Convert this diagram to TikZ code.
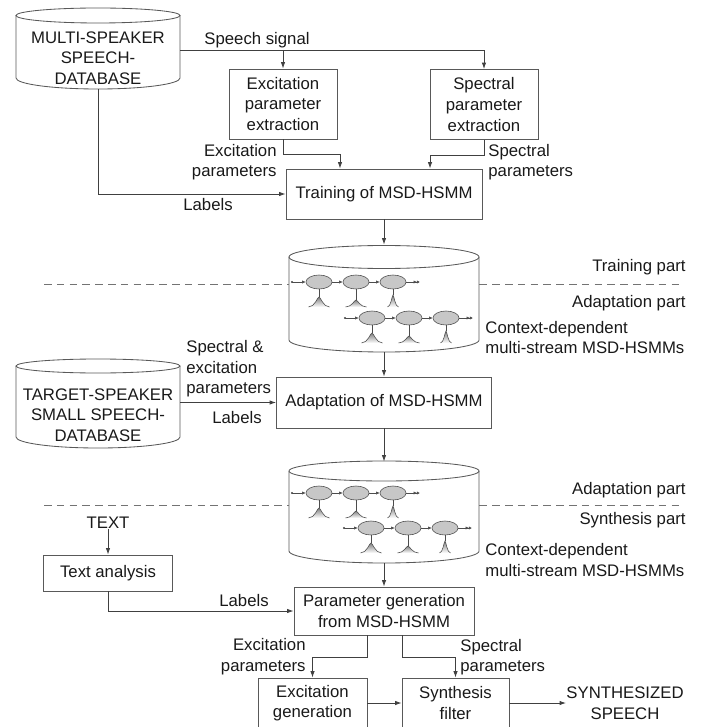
\documentclass[tikz,border=0pt]{standalone}
\usepackage{fontspec}
\setmainfont{Liberation Sans}
\usepackage{tikz}
\usetikzlibrary{
	arrows.meta,      % Per le punte delle frecce
	shapes.geometric  % Per gli stati ellittici
}

% Cilindro: x centro, y alto, y basso, rx, ry alto, ry basso (in pixel)
\newcommand{\cilindro}[6]{%
	\draw[bordo] (#1,#2) ellipse[x radius={#4*0.25mm}, y radius={#5*0.25mm}];
	\draw[bordo] (#1-#4,#2) -- (#1-#4,#3)
		arc[start angle=180, end angle=360, x radius={#4*0.25mm}, y radius={#6*0.25mm}]
		-- (#1+#4,#2);
}

% Gaussiana: x, y picco, y base, semi-larghezza
\newcommand{\gaussiana}[4]{%
	\shade[top color=black!50, bottom color=white]
		(#1-#4,#3) .. controls (#1-0.4*#4,#3) and (#1-0.15*#4,#2) .. (#1,#2)
		.. controls (#1+0.15*#4,#2) and (#1+0.4*#4,#3) .. (#1+#4,#3) -- cycle;
	\draw[sottile]
		(#1-#4,#3) .. controls (#1-0.4*#4,#3) and (#1-0.15*#4,#2) .. (#1,#2)
		.. controls (#1+0.15*#4,#2) and (#1+0.4*#4,#3) .. (#1+#4,#3);
}

% Catena di tre stati: x inizio, y
\newcommand{\catena}[2]{%
	\coordinate (ini) at (#1,#2);
	\node[stato] (sa) at (#1+27,#2) {};
	\node[stato] (sb) at (#1+64,#2) {};
	\node[stato] (sc) at (#1+101,#2) {};
	\coordinate (fin) at (#1+128,#2);
	\fill[black!75] (ini) circle[radius=0.3mm];
	\draw[passo] (ini) -- (sa);
	\draw[passo] (sa) -- (sb);
	\draw[passo] (sb) -- (sc);
	\draw[finale] (sc) -- (fin);
	\draw[sottile] (sa.south) -- ++(0,8);
	\draw[sottile] (sb.south) -- ++(0,11);
	\draw[sottile] (sc.south) -- ++(0,6);
	\gaussiana{#1+27}{#2+15}{#2+25}{10.5}
	\gaussiana{#1+64}{#2+18}{#2+25}{10.5}
	\gaussiana{#1+101}{#2+13}{#2+25}{5.5}
}

\begin{document}
\begin{tikzpicture}[
	x=0.025cm, y=-0.025cm,
	font=\fontsize{11.9}{14.6}\selectfont,
	line width=0.6pt,
	blocco/.style={draw=black!65, align=center, inner sep=0pt, text=black!90},
	etichetta/.style={align=center, inner sep=0pt, text=black!90},
	bordo/.style={draw=black!65},
	freccia/.style={draw=black!75, -{Latex[length=1.6mm,width=1.1mm]}},
	tratteggio/.style={draw=black!55, dash pattern=on 1.9mm off 1.3mm},
	stato/.style={ellipse, draw=black!70, fill=black!22, minimum width=6.5mm,
		minimum height=3.5mm, inner sep=0pt, line width=0.4pt},
	sottile/.style={draw=black!70, line width=0.4pt},
	passo/.style={sottile, -{Latex[length=0.9mm,width=0.8mm]}},
	finale/.style={sottile, -{Latex[length=0.8mm,width=0.8mm] Latex[length=0.8mm,width=0.8mm]}}
	]
	
	% --- Riquadro ---
	\useasboundingbox (0,0) rectangle (716,727);
	\clip (0,0) rectangle (716,727);
	
	% --- Parte di addestramento ---
	\cilindro{98}{15.5}{78}{82}{7.5}{11}
	\node[etichetta, minimum width=41mm, minimum height=15.5mm] (db1) at (98,58)
		{MULTI-SPEAKER\\SPEECH-\\DATABASE};
	\node[blocco, minimum width=27mm, minimum height=17.5mm] (estr_ecc) at (283,104)
		{Excitation\\parameter\\extraction};
	\node[blocco, minimum width=27mm, minimum height=17.5mm] (estr_spe) at (484,104.5)
		{Spectral\\parameter\\extraction};
	\node[blocco, minimum width=49mm, minimum height=12.5mm] (training) at (384,194)
		{Training of MSD-HSMM};
	
	\coordinate (segnale) at ([yshift=2mm]db1.east);
	\draw[freccia] (segnale) -| (estr_spe.north);
	\draw[freccia] (estr_ecc.north |- segnale) -- (estr_ecc.north);
	\node[etichetta] (l_segnale) at (257,40) {Speech signal};
	
	\draw[freccia] (estr_ecc.south) -- ++(0,15) -| ([xshift=-11mm]training.north);
	\draw[freccia] (estr_spe.south) -- ++(0,15) -| ([xshift=11.5mm]training.north);
	\node[etichetta, anchor=east, align=right] (l_ecc1) at (277,162) {Excitation\\parameters};
	\node[etichetta, anchor=west, align=left] (l_spe1) at (488,162) {Spectral\\parameters};
	
	\draw[freccia] (db1.south) |- (training.west);
	\node[etichetta] (l_lab1) at (208,205) {Labels};
	
	% --- Modelli dopo l'addestramento ---
	\cilindro{384}{257}{340}{95}{11.5}{12}
	\node[minimum width=47.5mm, minimum height=26.75mm, inner sep=0pt] (modelli1) at (384,298.5) {};
	\catena{292}{282}
	\catena{345}{318}
	\draw[freccia] (training.south) -- (modelli1.north);
	
	\coordinate (div1) at (44,284);
	\draw[tratteggio] (div1) -- (modelli1.west |- div1);
	\draw[tratteggio] (modelli1.east |- div1) -- (682,284);
	\node[etichetta, anchor=east] (l_tr) at (686,267) {Training part};
	\node[etichetta, anchor=east] (l_ad1) at (686,303) {Adaptation part};
	\node[etichetta, anchor=west, align=left] (l_cd1) at (485,337.5)
		{Context-dependent\\multi-stream MSD-HSMMs};
	
	% --- Parte di adattamento ---
	\cilindro{98}{366}{437}{82}{7}{11}
	\node[etichetta, minimum width=41mm, minimum height=16.5mm] (db2) at (98,415)
		{TARGET-SPEAKER\\SMALL SPEECH-\\DATABASE};
	\node[blocco, minimum width=53.75mm, minimum height=12.75mm] (adattamento) at (384,402.5)
		{Adaptation of MSD-HSMM};
	\draw[freccia] (modelli1.south) -- (adattamento.north);
	\draw[freccia] (db2.east |- adattamento.west) -- (adattamento.west);
	\node[etichetta, anchor=west, align=left] (l_par) at (186,369)
		{Spectral \&\\excitation\\parameters};
	\node[etichetta] (l_lab2) at (237,418) {Labels};
	
	% --- Modelli adattati ---
	\cilindro{384}{471}{551}{95}{10}{12}
	\node[minimum width=47.5mm, minimum height=25.25mm, inner sep=0pt] (modelli2) at (384,512.5) {};
	\catena{292}{493}
	\catena{344}{528}
	\draw[freccia] (adattamento.south) -- (modelli2.north);
	
	\coordinate (div2) at (44,505);
	\draw[tratteggio] (div2) -- (modelli2.west |- div2);
	\draw[tratteggio] (modelli2.east |- div2) -- (682,505);
	\node[etichetta, anchor=east] (l_ad2) at (686,490) {Adaptation part};
	\node[etichetta, anchor=east] (l_si) at (686,520) {Synthesis part};
	\node[etichetta, anchor=west, align=left] (l_cd2) at (485,560)
		{Context-dependent\\multi-stream MSD-HSMMs};
	
	% --- Parte di sintesi ---
	\node[etichetta] (testo) at (108,523) {TEXT};
	\node[blocco, minimum width=32.25mm, minimum height=9mm] (analisi) at (108,573) {Text analysis};
	\draw[freccia] (testo.south) -- (analisi.north);
	
	\node[blocco, minimum width=45mm, minimum height=12mm] (generazione) at (384,611)
		{Parameter generation\\from MSD-HSMM};
	\draw[freccia] (modelli2.south) -- (generazione.north);
	\draw[freccia] (analisi.south) |- (generazione.west);
	\node[etichetta] (l_lab3) at (244,601) {Labels};
	
	\node[blocco, minimum width=27.25mm, minimum height=12.5mm] (gen_ecc) at (312.5,703)
		{Excitation\\generation};
	\node[blocco, minimum width=26.75mm, minimum height=12.5mm] (filtro) at (455.5,703)
		{Synthesis\\filter};
	\draw[freccia] ([xshift=-4.25mm]generazione.south) -- ++(0,22) -| (gen_ecc.north);
	\draw[freccia] ([xshift=4.5mm]generazione.south) -- ++(0,22) -| (filtro.north);
	\node[etichetta, anchor=east, align=right] (l_ecc2) at (306,656.5) {Excitation\\parameters};
	\node[etichetta, anchor=west, align=left] (l_spe2) at (460,657) {Spectral\\parameters};
	
	\draw[freccia] (gen_ecc.east) -- (filtro.west);
	\node[etichetta, anchor=west] (uscita) at (566,703) {SYNTHESIZED\\SPEECH};
	\draw[freccia] (filtro.east) -- (uscita.west);
	
\end{tikzpicture}
\end{document}
